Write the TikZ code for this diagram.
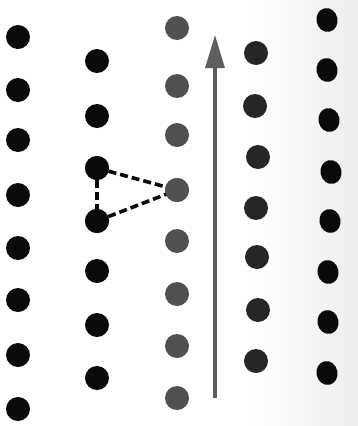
\documentclass[tikz,border=0pt]{standalone}
\usetikzlibrary{arrows.meta,shapes.geometric}
\definecolor{dotA}{HTML}{0A0A0A}
\definecolor{dotG}{HTML}{505050}
\definecolor{dotD}{HTML}{262626}
\definecolor{arrowc}{HTML}{5E5E5E}
\pgfdeclarehorizontalshading{scanshade}{100bp}{color(0bp)=(white); color(45bp)=(white); color(75bp)=(black!7); color(100bp)=(black!17)}
\tikzset{
  dot/.style={circle,fill=#1,inner sep=0pt,minimum size=24pt},
  dot/.default=dotA,
  edot/.style={ellipse,fill=dotA,inner sep=0pt,minimum width=21pt,minimum height=24pt,rotate=12},
  dashlink/.style={line width=3.6pt,dash pattern=on 8pt off 4pt,dotA},
}
\begin{document}
\begin{tikzpicture}[x=1pt,y=-1pt]
\useasboundingbox (0,0) rectangle (357,426);
\shade[shading=scanshade,draw=none] (180,-2) rectangle (358,428);
% column 1
\foreach \y [count=\i] in {37,90,140,195,248,300,355,409}
  \node[dot] (a\i) at (18,\y) {};
% column 2
\foreach \y [count=\i] in {61,116,168,221,271,325,378}
  \node[dot] (b\i) at (97,\y) {};
% column 3
\foreach \y [count=\i] in {28,86,135,190,241,294,346,398}
  \node[dot=dotG] (c\i) at (177,\y) {};
% column 4
\foreach \y/\x [count=\i] in {53/256,106/255,157/258,208/256,257/257,310/258,361/256}
  \node[dot=dotD] (d\i) at (\x,\y) {};
% column 5
\foreach \y/\x [count=\i] in {20/327,70/327,120/329,172/331,221/330,272/328,322/328,373/327}
  \node[edot] (e\i) at (\x,\y) {};
% arrow
\coordinate (arrS) at (215,398);
\coordinate (arrE) at (215,35);
\draw[arrowc,line width=3.2pt,-{Triangle[length=33pt,width=19pt]}] (arrS) -- (arrE);
% dashed triangle
\draw[dashlink] (b3.center) -- (b4.center);
\draw[dashlink] (b3.center) -- (c4.center);
\draw[dashlink] (b4.center) -- (c4.center);
\foreach \n in {b3,b4} \node[dot] at (\n) {};
\node[dot=dotG] at (c4) {};
\end{tikzpicture}
\end{document}
